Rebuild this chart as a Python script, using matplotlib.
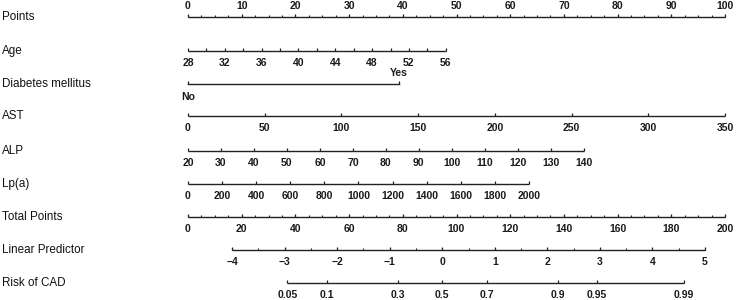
import numpy as np
import matplotlib.pyplot as plt

plt.rcParams['font.family'] = ['Liberation Sans', 'DejaVu Sans']

# nomogram scales (values and the points they are worth)
points_ticks = np.arange(0, 101, 10)
points_minor = np.arange(0, 100.1, 2.5)

age_ticks = np.arange(28, 57, 2)
age_labels = np.arange(28, 57, 4)
age_range = (28, 56)
age_max_points = 48.0

dm_labels = ["No", "Yes"]
dm_points = [0.0, 39.3]

ast_ticks = np.arange(0, 351, 50)
ast_range = (0, 350)
ast_max_points = 100.0

alp_ticks = np.arange(20, 141, 10)
alp_range = (20, 140)
alp_max_points = 73.7

lpa_ticks = np.arange(0, 2001, 200)
lpa_range = (0, 2000)
lpa_max_points = 63.5

total_ticks = np.arange(0, 201, 20)
total_minor = np.arange(0, 201, 5)
total_max = 200

lp_ticks = np.arange(-4, 6, 1)
lp_minor = np.arange(-4, 5.01, 0.5)
lp_ends = (-4, 5)
lp_ends_points = (8.19, 96.28)

risk_ticks = [0.05, 0.1, 0.3, 0.5, 0.7, 0.9, 0.95, 0.99]
risk_labels = ["0.05", "0.1", "0.3", "0.5", "0.7", "0.9", "0.95", "0.99"]

row_names = ["Points", "Age", "Diabetes mellitus", "AST", "ALP", "Lp(a)",
             "Total Points", "Linear Predictor", "Risk of CAD"]
row_y = [17, 51, 84, 116, 151, 184, 217, 250, 283]

LINE = "#222222"
LBL = 8.4
TCK = 7.5


def lin(lo, hi, p_lo, p_hi):
    return lambda v: p_lo + (np.asarray(v, float) - lo) / (hi - lo) * (p_hi - p_lo)


age_f = lin(age_range[0], age_range[1], 0, age_max_points)
ast_f = lin(ast_range[0], ast_range[1], 0, ast_max_points)
alp_f = lin(alp_range[0], alp_range[1], 0, alp_max_points)
lpa_f = lin(lpa_range[0], lpa_range[1], 0, lpa_max_points)
total_f = lin(0, total_max, 0, 100)
lp_f = lin(lp_ends[0], lp_ends[1], lp_ends_points[0], lp_ends_points[1])


def risk_f(p):
    p = np.asarray(p, float)
    return lp_f(np.log(p / (1 - p)))


fig = plt.figure(figsize=(7.36, 3.0), dpi=100)
ax = fig.add_axes([0, 0, 1, 1])
ax.set_xlim(-188 / 5.37, (736 - 188) / 5.37)
ax.set_ylim(300, 0)
ax.axis("off")


def tick_text(x, y, t):
    ax.text(x, y, t, ha="center", va="center", fontsize=TCK, fontweight="bold", color="#1a1a1a")


def draw_scale(y, xs, labels, xs_lab=None, minor=None, above=False, major_len=3.2, minor_len=1.6):
    xs = np.atleast_1d(xs)
    ax.plot([xs.min(), xs.max()], [y, y], color=LINE, lw=1.0, solid_capstyle="butt")
    ax.vlines(xs, y - major_len, y, color=LINE, lw=0.9)
    if minor is not None:
        ax.vlines(minor, y - minor_len, y, color=LINE, lw=0.8)
    if xs_lab is None:
        xs_lab = xs
    ty = y - 11 if above else y + 12
    for x, t in zip(xs_lab, labels):
        tick_text(x, ty, t)


def fmt(v):
    s = f"{v:g}"
    return s.replace("-", "\u2212")


# row names
for name, y in zip(row_names, row_y):
    ax.text(-188 / 5.37 + 0.3, y, name, ha="left", va="center", fontsize=LBL, color="#111111")

# Points
draw_scale(row_y[0], points_ticks, [fmt(v) for v in points_ticks], minor=points_minor, above=True)
# Age
draw_scale(row_y[1], age_f(age_ticks), [fmt(v) for v in age_labels], xs_lab=age_f(age_labels))
# Diabetes mellitus
y = row_y[2]
ax.plot(dm_points, [y, y], color=LINE, lw=1.0)
ax.vlines(dm_points, y - 3.2, y, color=LINE, lw=0.9)
tick_text(dm_points[0], y + 13, dm_labels[0])
tick_text(dm_points[1], y - 11, dm_labels[1])
# AST
draw_scale(row_y[3], ast_f(ast_ticks), [fmt(v) for v in ast_ticks])
# ALP
draw_scale(row_y[4], alp_f(alp_ticks), [fmt(v) for v in alp_ticks])
# Lp(a)
draw_scale(row_y[5], lpa_f(lpa_ticks), [fmt(v) for v in lpa_ticks])
# Total Points
draw_scale(row_y[6], total_f(total_ticks), [fmt(v) for v in total_ticks], minor=total_f(total_minor))
# Linear Predictor
draw_scale(row_y[7], lp_f(lp_ticks), [fmt(v) for v in lp_ticks], minor=lp_f(lp_minor))
# Risk
draw_scale(row_y[8], risk_f(risk_ticks), risk_labels)

fig.savefig("out.png", dpi=100)
